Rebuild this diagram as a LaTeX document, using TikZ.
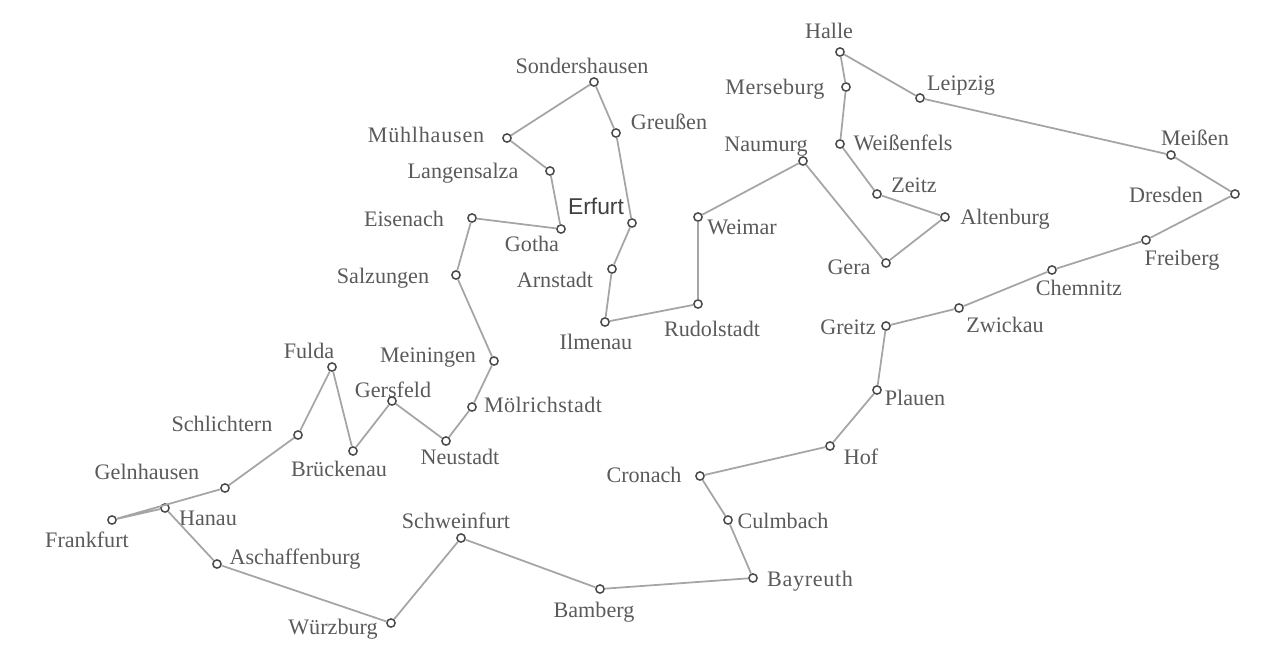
\documentclass[tikz,border=0pt]{standalone}
\usepackage{fontspec}
\usepackage{xcolor}
\setmainfont{Liberation Serif}
\setsansfont{Liberation Sans}
\definecolor{road}{RGB}{165, 165, 165}
\definecolor{ink}{RGB}{90, 90, 90}
\definecolor{ring}{RGB}{75, 75, 75}
\tikzset{
    city/.style={circle, draw=ring, line width=0.85pt, fill=white, minimum size=0.165cm, inner sep=0pt},
    place/.style={text=ink, inner sep=0pt, font=\fontsize{12.6}{14}\selectfont},
    wide/.style={font=\fontsize{12.6}{14}\selectfont\addfontfeature{LetterSpace=#1}},
    tour/.style={draw=road, line width=1pt, line join=round}
}
\begin{document}
\begin{tikzpicture}[x=0.02cm, y=-0.02cm]
    \useasboundingbox (0,0) rectangle (1280,660);
    \node[city] (frankfurt) at (112,520) {};
    \node[city] (hanau) at (165,508) {};
    \node[city] (aschaffenburg) at (217,564) {};
    \node[city] (wuerzburg) at (391,623) {};
    \node[city] (schweinfurt) at (461,538) {};
    \node[city] (bamberg) at (600,589) {};
    \node[city] (bayreuth) at (753,578) {};
    \node[city] (culmbach) at (728,520) {};
    \node[city] (cronach) at (700,476) {};
    \node[city] (hof) at (830,446) {};
    \node[city] (plauen) at (877,390) {};
    \node[city] (greitz) at (886,326) {};
    \node[city] (zwickau) at (959,308) {};
    \node[city] (chemnitz) at (1052,270) {};
    \node[city] (freiberg) at (1146,240) {};
    \node[city] (dresden) at (1235,194) {};
    \node[city] (meissen) at (1171,155) {};
    \node[city] (leipzig) at (920,98) {};
    \node[city] (halle) at (840,52) {};
    \node[city] (merseburg) at (846,87) {};
    \node[city] (weissenfels) at (840,144) {};
    \node[city] (zeitz) at (877,194) {};
    \node[city] (altenburg) at (945,217) {};
    \node[city] (gera) at (886,263) {};
    \node[city] (naumurg) at (803,161) {};
    \node[city] (weimar) at (698,217) {};
    \node[city] (rudolstadt) at (698,304) {};
    \node[city] (ilmenau) at (605,322) {};
    \node[city] (arnstadt) at (612,269) {};
    \node[city] (erfurt) at (632,223) {};
    \node[city] (greussen) at (616,133) {};
    \node[city] (sondershausen) at (594,82) {};
    \node[city] (muehlhausen) at (507,138) {};
    \node[city] (langensalza) at (550,171) {};
    \node[city] (gotha) at (561,229) {};
    \node[city] (eisenach) at (472,218) {};
    \node[city] (salzungen) at (456,275) {};
    \node[city] (meiningen) at (494,361) {};
    \node[city] (moelrichstadt) at (472,407) {};
    \node[city] (neustadt) at (446,441) {};
    \node[city] (gersfeld) at (392,401) {};
    \node[city] (brueckenau) at (353,451) {};
    \node[city] (fulda) at (332,367) {};
    \node[city] (schlichtern) at (298,435) {};
    \node[city] (gelnhausen) at (225,488) {};
    % labels
    \node[place] (frankfurtname) at (87,540) {Frankfurt};
    \node[place] (hanauname) at (208,518) {Hanau};
    \node[place] (aschaffenburgname) at (295,559) {Aschaffenburg};
    \node[place] (wuerzburgname) at (333,629) {Würzburg};
    \node[place] (schweinfurtname) at (456,521) {Schweinfurt};
    \node[place] (bambergname) at (594,612) {Bamberg};
    \node[place, wide=3] (bayreuthname) at (810,581) {Bayreuth};
    \node[place] (culmbachname) at (783,521) {Culmbach};
    \node[place] (cronachname) at (644,475) {Cronach};
    \node[place] (hofname) at (861,457) {Hof};
    \node[place] (plauenname) at (915,398) {Plauen};
    \node[place] (greitzname) at (848,327) {Greitz};
    \node[place] (zwickauname) at (1005,325) {Zwickau};
    \node[place] (chemnitzname) at (1079,288) {Chemnitz};
    \node[place] (freibergname) at (1182,260) {Freiberg};
    \node[place] (dresdenname) at (1166,195) {Dresden};
    \node[place] (meissenname) at (1195,138) {Meißen};
    \node[place] (leipzigname) at (961,86) {Leipzig};
    \node[place] (hallename) at (829,31) {Halle};
    \node[place, wide=2] (merseburgname) at (775,89) {Merseburg};
    \node[place] (weissenfelsname) at (903,143) {Weißenfels};
    \node[place] (zeitzname) at (914,185) {Zeitz};
    \node[place] (altenburgname) at (1005,219) {Altenburg};
    \node[place] (geraname) at (849,267) {Gera};
    \node[place] (naumurgname) at (766,147) {Naumurg};
    \node[place] (weimarname) at (742,227) {Weimar};
    \node[place] (rudolstadtname) at (712,329) {Rudolstadt};
    \node[place] (ilmenauname) at (596,342) {Ilmenau};
    \node[place] (arnstadtname) at (555,280) {Arnstadt};
    \node[place, text=black!75, font=\sffamily\fontsize{13}{15}\selectfont] (erfurtname) at (596,206) {Erfurt};
    \node[place] (greussenname) at (669,122) {Greußen};
    \node[place] (sondershausenname) at (582,66) {Sondershausen};
    \node[place, wide=3.5] (muehlhausenname) at (426,135) {Mühlhausen};
    \node[place] (langensalzaname) at (463,173) {Langensalza};
    \node[place] (gothaname) at (532,244) {Gotha};
    \node[place] (eisenachname) at (404,219) {Eisenach};
    \node[place] (salzungenname) at (383,278) {Salzungen};
    \node[place] (meiningenname) at (428,358) {Meiningen};
    \node[place, wide=2] (moelrichstadtname) at (543,405) {Mölrichstadt};
    \node[place] (neustadtname) at (460,457) {Neustadt};
    \node[place] (gersfeldname) at (393,390) {Gersfeld};
    \node[place] (brueckenauname) at (339,469) {Brückenau};
    \node[place] (fuldaname) at (309,351) {Fulda};
    \node[place] (schlichternname) at (222,424) {Schlichtern};
    \node[place] (gelnhausenname) at (147,472) {Gelnhausen};
    % round trip
    \draw[tour] (frankfurt)--(hanau)--(aschaffenburg)--(wuerzburg)--(schweinfurt)--(bamberg)--(bayreuth)--(culmbach)--(cronach)--(hof)--(plauen)--(greitz)--(zwickau)--(chemnitz)--(freiberg)--(dresden)--(meissen)--(leipzig)--(halle)--(merseburg)--(weissenfels)--(zeitz)--(altenburg)--(gera)--(naumurg)--(weimar)--(rudolstadt)--(ilmenau)--(arnstadt)--(erfurt)--(greussen)--(sondershausen)--(muehlhausen)--(langensalza)--(gotha)--(eisenach)--(salzungen)--(meiningen)--(moelrichstadt)--(neustadt)--(gersfeld)--(brueckenau)--(fulda)--(schlichtern)--(gelnhausen)--(frankfurt);
\end{tikzpicture}
\end{document}
